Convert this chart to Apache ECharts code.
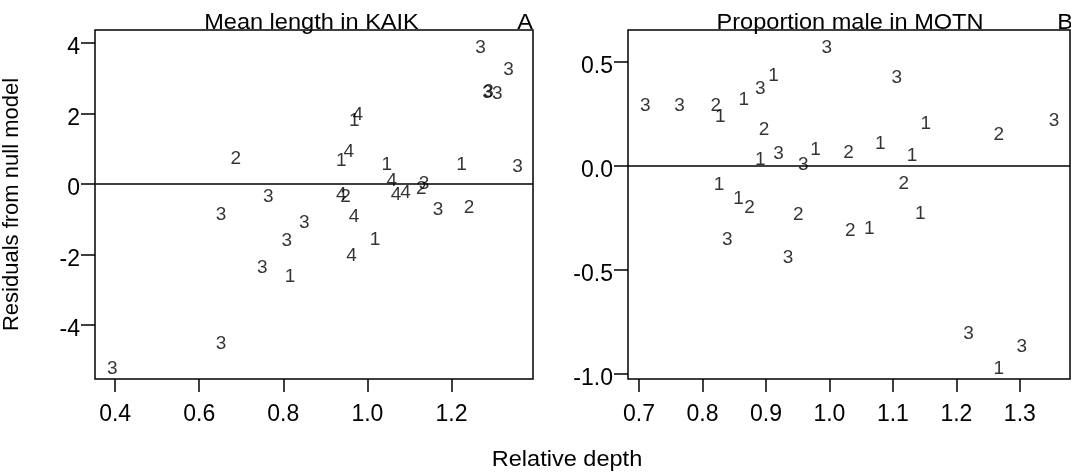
<!DOCTYPE html>
<html lang="en">
<head>
    <meta charset="utf-8">
    <title>Residuals vs relative depth</title>
    <script src="https://cdn.jsdelivr.net/npm/echarts@6/dist/echarts.min.js"></script>
    <style>
        html, body { margin: 0; padding: 0; background: #fff; }
        #chart { width: 1071px; height: 475px; }
    </style>
</head>
<body>
<div id="chart"></div>
<script>
// panel A: mean length in KAIK
var kaikDepth = [0.393, 0.652, 0.652, 0.687, 0.764, 0.750, 0.816, 0.808, 0.850, 0.938, 0.956,
    0.938, 0.948, 0.968, 0.962, 0.969, 0.977, 1.018, 1.046, 1.058, 1.068, 1.091, 1.128, 1.135,
    1.168, 1.224, 1.242, 1.269, 1.286, 1.288, 1.309, 1.336, 1.357];
var kaikResid = [-5.25, -4.52, -0.88, 0.73, -0.36, -2.37, -2.63, -1.61, -1.11, 0.66, 0.92,
    -0.31, -0.36, -0.94, -2.04, 1.80, 1.96, -1.57, 0.54, 0.09, -0.31, -0.26, -0.12, 0.00,
    -0.72, 0.56, -0.66, 3.87, 2.60, 2.61, 2.57, 3.25, 0.49];
var kaikGroup = ['3', '3', '3', '2', '3', '3', '1', '3', '3', '1', '4',
    '4', '2', '4', '4', '1', '4', '1', '1', '4', '4', '4', '2', '3',
    '3', '1', '2', '3', '3', '3', '3', '3', '3'];

// panel B: proportion male in MOTN
var motnDepth = [0.710, 0.764, 0.821, 0.828, 0.865, 0.891, 0.912, 0.897, 0.891, 0.920, 0.959,
    0.978, 0.996, 1.030, 1.080, 1.106, 1.130, 1.152, 1.117, 1.267, 1.354, 0.826, 0.857,
    0.874, 0.951, 0.839, 0.935, 1.143, 1.033, 1.063, 1.219, 1.303, 1.267];
var motnResid = [0.287, 0.287, 0.287, 0.236, 0.319, 0.372, 0.431, 0.172, 0.027, 0.056, 0.003,
    0.079, 0.567, 0.063, 0.108, 0.423, 0.047, 0.204, -0.088, 0.151, 0.215, -0.093, -0.157,
    -0.200, -0.237, -0.354, -0.440, -0.229, -0.313, -0.301, -0.809, -0.870, -0.977];
var motnGroup = ['3', '3', '2', '1', '1', '3', '1', '2', '1', '3', '3',
    '1', '3', '2', '1', '3', '1', '1', '2', '2', '3', '1', '1',
    '2', '2', '3', '3', '1', '2', '1', '3', '3', '1'];

var kaikYTicks = [-4, -2, 0, 2, 4];
var kaikXTicks = [0.4, 0.6, 0.8, 1.0, 1.2];
var motnYTicks = [-1.0, -0.5, 0.0, 0.5];
var motnXTicks = [0.7, 0.8, 0.9, 1.0, 1.1, 1.2, 1.3];

var FONT = 'Liberation Sans, Arial, sans-serif';

function pts(xs, ys, gs) {
    return xs.map(function (x, i) { return [x, ys[i], gs[i]]; });
}

function xAxisFor(idx, min, max, ticks) {
    return {
        type: 'value', gridIndex: idx, min: min, max: max,
        splitLine: { show: false },
        axisLine: { show: false, onZero: false },
        axisTick: { show: true, length: 13, customValues: ticks, lineStyle: { color: '#000', width: 1.5 } },
        axisLabel: {
            customValues: ticks, margin: 24, fontSize: 23, color: '#000', fontFamily: FONT,
            formatter: function (v) { return v.toFixed(1); }
        }
    };
}

function yAxisFor(idx, min, max, ticks, dec) {
    return {
        type: 'value', gridIndex: idx, min: min, max: max,
        splitLine: { show: false },
        axisLine: { show: false, onZero: false },
        axisTick: { show: true, length: 14, customValues: ticks, lineStyle: { color: '#000', width: 1.5 } },
        axisLabel: {
            customValues: ticks, margin: 15, fontSize: 23, color: '#000', fontFamily: FONT,
            verticalAlign: 'top', lineHeight: 10,
            formatter: function (v) { return v.toFixed(dec); }
        }
    };
}

function labelSeries(idx, data) {
    return {
        type: 'scatter', xAxisIndex: idx, yAxisIndex: idx,
        data: data,
        symbolSize: 1,
        itemStyle: { color: 'rgba(0,0,0,0)' },
        label: {
            show: true, position: 'inside', fontSize: 19, color: '#000', fontFamily: FONT,
            formatter: function (p) { return p.value[2]; }
        },
        markLine: {
            silent: true, symbol: 'none', label: { show: false },
            lineStyle: { color: '#000', width: 1.5, type: 'solid' },
            data: [{ yAxis: 0 }]
        },
        silent: true
    };
}

var chart = echarts.init(document.getElementById('chart'));
var yAxes = [yAxisFor(0, -5.53, 4.37, kaikYTicks, 0), yAxisFor(1, -1.024, 0.652, motnYTicks, 1)];
yAxes[0].name = 'Residuals from null model';
yAxes[0].nameLocation = 'middle';
yAxes[0].nameGap = 72;
yAxes[0].nameTextStyle = { fontSize: 22, color: '#000', fontFamily: FONT };

function label(text, x, y, align) {
    return {
        type: 'text', x: x, y: y, scaleX: 1.07,
        style: { text: text, fontSize: 22, fontFamily: FONT, fill: '#000', align: align, verticalAlign: 'middle' }
    };
}

chart.setOption({
    animation: false,
    backgroundColor: '#fff',
    grid: [
        { left: 90, top: 30, width: 443, height: 349, show: true, borderColor: '#000', borderWidth: 1.5, backgroundColor: 'transparent' },
        { left: 628, top: 30, width: 442, height: 349, show: true, borderColor: '#000', borderWidth: 1.5, backgroundColor: 'transparent' }
    ],
    xAxis: [xAxisFor(0, 0.352, 1.394, kaikXTicks), xAxisFor(1, 0.6827, 1.379, motnXTicks)],
    yAxis: yAxes,
    series: [
        labelSeries(0, pts(kaikDepth, kaikResid, kaikGroup)),
        labelSeries(1, pts(motnDepth, motnResid, motnGroup))
    ],
    graphic: [
        label('Mean length in KAIK', 311.5, 23, 'center'),
        label('A', 533, 23, 'right'),
        label('Proportion male in MOTN', 850, 23, 'center'),
        label('B', 1073, 23, 'right'),
        label('Relative depth', 567, 460, 'center')
    ]
});
</script>
</body>
</html>
